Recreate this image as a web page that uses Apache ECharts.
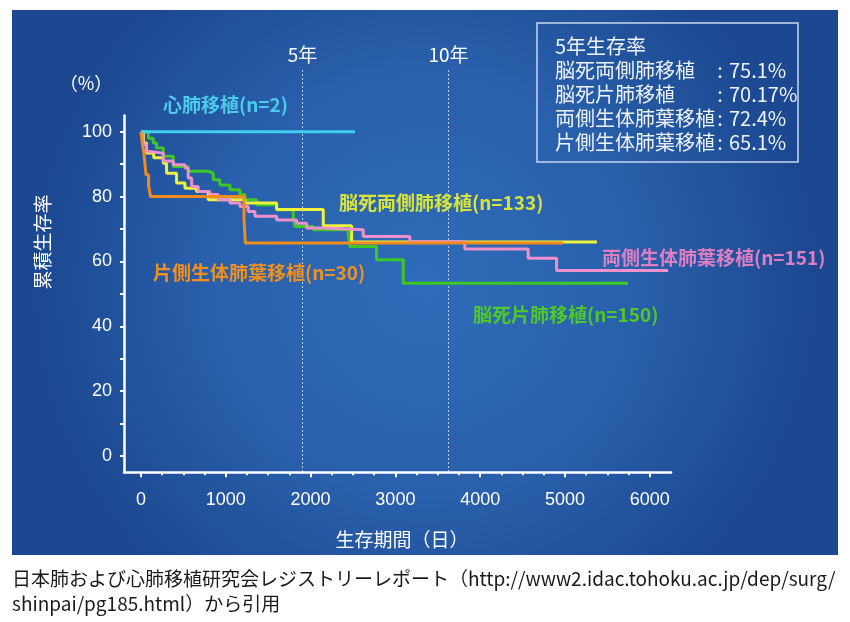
<!DOCTYPE html>
<html>
<head>
<meta charset="utf-8">
<script src="https://cdn.jsdelivr.net/npm/echarts@6/dist/echarts.min.js"></script>
<style>html,body{margin:0;padding:0;background:#ffffff}#c{width:850px;height:622px}</style>
</head>
<body>
<div id="c"></div>
<script>
// ---- data (days, cumulative survival %) ----
const heartLung = [[0,100],[2524,100]];
const bilateralBrainDead = [[0,100],[30,96.5],[66,93.4],[150,92],[263,90.3],[302,87.2],[420,84.2],[519,82.6],[656,81.6],[793,79],[1226,78],[1600,76],[2150,71],[2484,66],[5377,66]];
const singleBrainDead = [[0,100],[87,98],[145,96.5],[184,95],[263,92.4],[381,89.3],[557,87.8],[793,87.2],[853,85.2],[931,83.6],[1049,82.1],[1167,80.6],[1226,79],[1364,77.5],[1600,75.9],[1796,73.9],[1815,70.8],[2032,69.8],[2444,68.2],[2463,64.6],[2778,60.5],[3093,53.3],[5743,53.3]];
const bilateralLiving = [[0,100],[25,96],[66,93.9],[106,93.4],[263,91],[381,89.8],[519,88.8],[557,85.7],[598,83.1],[675,81.6],[813,80.6],[911,79],[1049,78],[1167,76.9],[1265,75.4],[1344,73.9],[1600,72.8],[1836,71.8],[1954,70.3],[2150,69.8],[2621,67.7],[3171,66.1],[3819,63.8],[4566,61],[4901,57.2],[6215,57.2]];
const singleLiving = [[0,100],[15,96.7],[35,93.3],[47,90],[60,86.7],[90,83.3],[112,80],[1215,73.3],[1230,65.7],[4976,65.7]];

const xTickLabels = [0,1000,2000,3000,4000,5000,6000];
const xMinorTicks = [0,250,500,750,1000,1250,1500,1750,2000,2250,2500,2750,3000,3250,3500,3750,4000,4250,4500,4750,5000,5250,5500,5750,6000];
const yTickLabels = [0,20,40,60,80,100];
const yMinorTicks = [0,10,20,30,40,50,60,70,80,90,100];
const yearMarks = [1900, 3620];
const yearLabels = ['5年','10年'];

const seriesNames = ['心肺移植(n=2)','脳死両側肺移植(n=133)','脳死片肺移植(n=150)','両側生体肺葉移植(n=151)','片側生体肺葉移植(n=30)'];
const rateTitle = '5年生存率';
const rateNames = ['脳死両側肺移植','脳死片肺移植','両側生体肺葉移植','片側生体肺葉移植'];
const rateValues = ['75.1%','70.17%','72.4%','65.1%'];
const yAxisTitle = '累積生存率';
const yUnit = '（%）';
const xAxisTitle = '生存期間（日）';
const captionLines = ['日本肺および心肺移植研究会レジストリーレポート（http://www2.idac.tohoku.ac.jp/dep/surg/','shinpai/pg185.html）から引用'];

// ---- styling ----
const NUM_FONT = "'Liberation Sans Narrow','Liberation Sans','Roboto',sans-serif";
const JP_FONT = "'Noto Sans CJK JP','Noto Sans',sans-serif";
const C = {cyan:'#3fd0f0', yellow:'#eef23c', green:'#3ec824', pink:'#ee90cc', orange:'#f08c1e'};
const LC = {cyan:'#4ccbea', yellow:'#d8e43a', green:'#4ec82a', pink:'#e07ec2', orange:'#f0901e'};

const chart = echarts.init(document.getElementById('c'), null, {renderer:'canvas'});

function line(name, data, color, z){
  return {name, type:'line', step:'end', data, symbol:'none', showSymbol:false,
    lineStyle:{color, width:3}, itemStyle:{color}, z, animation:false, silent:true};
}

const axisCommon = {type:'value', min:-200, max:6250, position:'bottom', splitLine:{show:false}};

chart.setOption({
  animation:false,
  backgroundColor:'#ffffff',
  grid:{left:124, top:115.5, width:547, height:356.7, containLabel:false},
  xAxis:[
    Object.assign({}, axisCommon, {
      axisLine:{show:true, onZero:false, lineStyle:{color:'#ffffff', width:2.5}},
      axisTick:{show:true, customValues:xMinorTicks, length:3, lineStyle:{color:'#ffffff', width:2}},
      axisLabel:{show:false}
    }),
    Object.assign({}, axisCommon, {
      axisLine:{show:false, onZero:false},
      axisTick:{show:true, customValues:xTickLabels, length:5, lineStyle:{color:'#ffffff', width:2}},
      axisLabel:{show:true, customValues:xTickLabels, margin:19, color:'#ffffff', fontSize:18, fontFamily:NUM_FONT,
        formatter:v=>String(v)}
    })
  ],
  yAxis:{
    type:'value', min:-5, max:105,
    splitLine:{show:false},
    axisLine:{show:true, onZero:false, lineStyle:{color:'#ffffff', width:2.5}},
    axisTick:{show:true, customValues:yMinorTicks, length:4, lineStyle:{color:'#ffffff', width:2}},
    axisLabel:{show:true, customValues:yTickLabels, margin:12, color:'#ffffff', fontSize:18, fontFamily:NUM_FONT,
      formatter:v=>String(v)}
  },
  series:[
    line(seriesNames[2], singleBrainDead, C.green, 3),
    line(seriesNames[1], bilateralBrainDead, C.yellow, 4),
    line(seriesNames[3], bilateralLiving, C.pink, 5),
    line(seriesNames[4], singleLiving, C.orange, 6),
    line(seriesNames[0], heartLung, C.cyan, 7)
  ]
});

// ---- decorations placed through the chart's own scales ----
const g = [];
g.push({type:'rect', z:-10, silent:true, shape:{x:12, y:10, width:826, height:545},
  style:{fill:{type:'radial', x:0.5, y:0.5, r:0.72, colorStops:[
    {offset:0, color:'#2f6cb9'},{offset:0.55, color:'#295fab'},{offset:1, color:'#1b4890'}]}}});

const yBottom = chart.convertToPixel({yAxisIndex:0}, -5);
yearMarks.forEach((v,i)=>{
  const px = Math.round(chart.convertToPixel({xAxisIndex:0}, v)) + 0.5;
  g.push({type:'line', z:1, silent:true, shape:{x1:px, y1:70, x2:px, y2:yBottom},
    style:{stroke:'rgba(235,240,255,0.75)', lineWidth:1, lineDash:[2,2]}});
  g.push({type:'text', z:5, x:px, y:55, style:{text:yearLabels[i], fill:'#ffffff', font:'19px '+JP_FONT, textAlign:'center', textVerticalAlign:'middle'}});
});

function label(text, x, y, color){
  g.push({type:'text', z:8, x, y, style:{text, fill:color, font:'bold 19px '+JP_FONT, textAlign:'left', textVerticalAlign:'middle'}});
}
label(seriesNames[0], 163, 105, LC.cyan);
label(seriesNames[1], 339, 203, LC.yellow);
label(seriesNames[4], 153, 273, LC.orange);
label(seriesNames[3], 602, 258, LC.pink);
label(seriesNames[2], 473, 315, LC.green);

// axis titles
g.push({type:'text', z:5, x:86, y:83, style:{text:yUnit, fill:'#ffffff', font:'18px '+JP_FONT, textAlign:'center', textVerticalAlign:'middle'}});
g.push({type:'text', z:5, x:43, y:242, rotation:Math.PI/2, style:{text:yAxisTitle, fill:'#ffffff', font:'19px '+JP_FONT, textAlign:'center', textVerticalAlign:'middle'}});
g.push({type:'text', z:5, x:402, y:540, style:{text:xAxisTitle, fill:'#ffffff', font:'19px '+JP_FONT, textAlign:'center', textVerticalAlign:'middle'}});

// 5-year survival box
g.push({type:'rect', z:5, silent:true, shape:{x:537, y:23, width:261, height:139}, style:{fill:'none', stroke:'#c9d6ee', lineWidth:1.5}});
g.push({type:'text', z:6, x:555, y:46, style:{text:rateTitle, fill:'#eef3fb', font:'20px '+JP_FONT, textAlign:'left', textVerticalAlign:'middle'}});
rateNames.forEach((n,i)=>{
  const y = 70 + i*24;
  g.push({type:'text', z:6, x:555, y, style:{text:n, fill:'#eef3fb', font:'20px '+JP_FONT, textAlign:'left', textVerticalAlign:'middle'}});
  g.push({type:'text', z:6, x:720, y, style:{text:':', fill:'#eef3fb', font:'20px '+JP_FONT, textAlign:'center', textVerticalAlign:'middle'}});
  g.push({type:'text', z:6, x:729, y, style:{text:rateValues[i], fill:'#eef3fb', font:'20px '+JP_FONT, textAlign:'left', textVerticalAlign:'middle'}});
});

// caption
captionLines.forEach((t,i)=>{
  g.push({type:'text', z:5, x:12, y:579 + i*25, style:{text:t, fill:'#1a1a1a', font:'19px '+JP_FONT, textAlign:'left', textVerticalAlign:'middle'}});
});

chart.setOption({graphic:g});
</script>
</body>
</html>
